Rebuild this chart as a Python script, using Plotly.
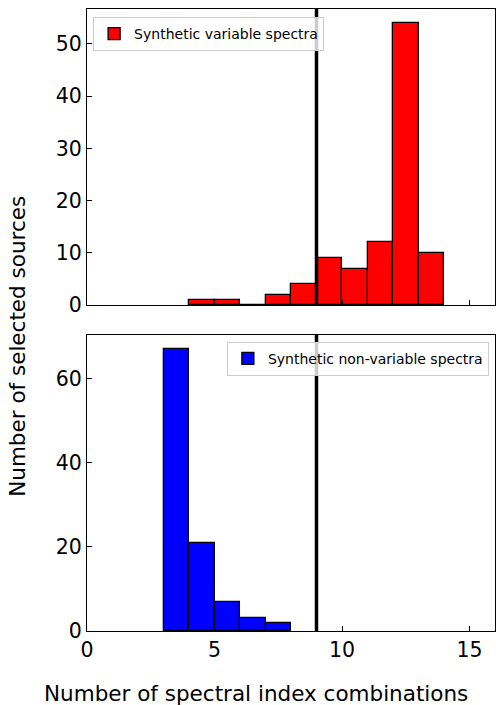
import plotly.graph_objects as go
from plotly.subplots import make_subplots

# histogram bins (left edges, width 1) and counts
variable_edges = [4, 5, 6, 7, 8, 9, 10, 11, 12, 13]
variable_counts = [1, 1, 0, 2, 4, 9, 7, 12, 54, 10]
nonvariable_edges = [3, 4, 5, 6, 7]
nonvariable_counts = [67, 21, 7, 3, 2]
threshold = 9

FONT = "DejaVu Sans"

fig = make_subplots(rows=2, cols=1, shared_xaxes=False, vertical_spacing=0.048)

fig.add_trace(
    go.Bar(
        x=[e + 0.5 for e in variable_edges],
        y=variable_counts,
        width=1,
        marker=dict(color="#ff0000", line=dict(color="black", width=1.3)),
        name="Synthetic variable spectra",
        legend="legend",
        showlegend=True,
    ),
    row=1, col=1,
)
fig.add_trace(
    go.Bar(
        x=[e + 0.5 for e in nonvariable_edges],
        y=nonvariable_counts,
        width=1,
        marker=dict(color="#0000ff", line=dict(color="black", width=1.3)),
        name="Synthetic non-variable spectra",
        legend="legend2",
        showlegend=True,
    ),
    row=2, col=1,
)

for r in (1, 2):
    fig.add_vline(x=threshold, line_color="black", line_width=3.5, row=r, col=1)

axis_style = dict(
    showline=True, linecolor="black", linewidth=1.2, mirror=True,
    ticks="inside", ticklen=5, tickwidth=1, tickcolor="black",
    showgrid=False, zeroline=False,
    tickfont=dict(family=FONT, size=20.5, color="black"),
)
fig.update_xaxes(range=[0, 16], tickvals=[0, 5, 10, 15], **axis_style)
fig.update_xaxes(showticklabels=False, row=1, col=1)
fig.update_yaxes(**axis_style)
fig.update_yaxes(range=[0, 56.7], tickvals=[0, 10, 20, 30, 40, 50], row=1, col=1)
fig.update_yaxes(range=[0, 70.35], tickvals=[0, 20, 40, 60], row=2, col=1)

legend_style = dict(
    bgcolor="rgba(255,255,255,0.8)", bordercolor="#cccccc", borderwidth=1,
    font=dict(family=FONT, size=14, color="black"),
    visible=True,
)
fig.update_layout(
    width=496,
    height=705,
    margin=dict(l=87, r=1, t=9, b=74),
    plot_bgcolor="white",
    paper_bgcolor="white",
    showlegend=True,
    barmode="overlay",
    bargap=0,
    font=dict(family=FONT, color="black"),
    legend=dict(x=0.015, y=0.987, xanchor="left", yanchor="top", **legend_style),
    legend2=dict(x=0.985, y=0.465, xanchor="right", yanchor="top", **legend_style),
    annotations=[
        dict(
            text="Number of spectral index combinations",
            xref="paper", yref="paper", x=0.414, y=-0.1,
            xanchor="center", yanchor="middle", showarrow=False,
            font=dict(family=FONT, size=21.5, color="black"),
        ),
        dict(
            text="Number of selected sources",
            xref="paper", yref="paper", x=-0.169, y=0.457,
            xanchor="center", yanchor="middle", showarrow=False, textangle=-90,
            font=dict(family=FONT, size=21.5, color="black"),
        ),
    ],
)

fig.write_html(
    "out.html",
    config={"displayModeBar": False},
    post_script="document.body.style.margin='0';",
)
